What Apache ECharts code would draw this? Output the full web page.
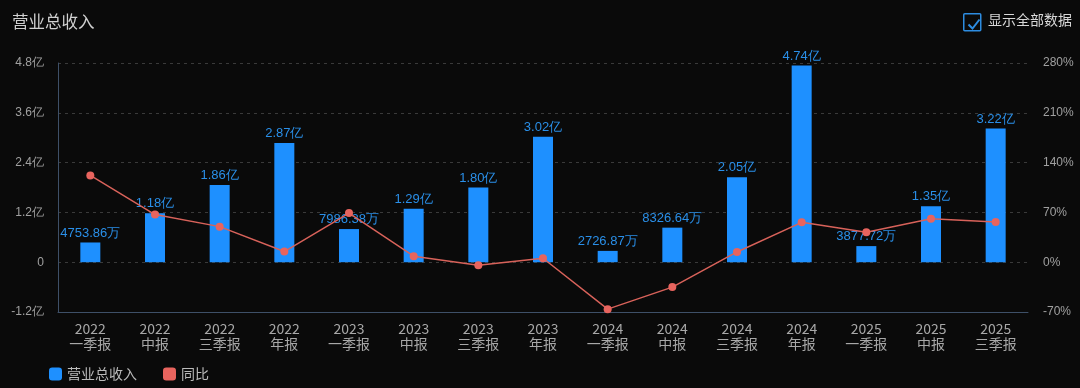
<!DOCTYPE html>
<html><head><meta charset="utf-8">
<script src="https://cdn.jsdelivr.net/npm/echarts@6/dist/echarts.min.js"></script>
<style>html,body{margin:0;padding:0;background:#0a0a0a;}#c{width:1080px;height:388px;}</style>
</head><body><div id="c"></div>
<script>
const categories = ['2022\n一季报','2022\n中报','2022\n三季报','2022\n年报','2023\n一季报','2023\n中报','2023\n三季报','2023\n年报','2024\n一季报','2024\n中报','2024\n三季报','2024\n年报','2025\n一季报','2025\n中报','2025\n三季报'];
// 营业总收入, unit: 亿
const revenue = [0.475386, 1.18, 1.86, 2.87, 0.798638, 1.29, 1.80, 3.02, 0.272687, 0.832664, 2.05, 4.74, 0.387772, 1.35, 3.22];
// 同比, unit: %
const yoy = [122, 67, 50, 15, 69, 8.4, -4.2, 5.6, -66, -35, 14.4, 56, 42, 61, 56.5];
const leftTicks = {min: -1.2, max: 4.8, interval: 1.2};
const rightTicks = {min: -70, max: 280, interval: 70};

function fmtRev(v){
  if (Math.abs(v) < 1) return (v*10000).toFixed(2) + '万';
  return v.toFixed(2) + '亿';
}
const chart = echarts.init(document.getElementById('c'));
chart.setOption({
  backgroundColor: '#0a0a0a',
  animation: false,
  title: {text: '营业总收入', left: 7, top: 8, textStyle: {color: '#d0d0d0', fontSize: 16.5, fontWeight: 'normal', fontFamily: 'Noto Sans CJK SC'}},
  legend: {
    left: 44, bottom: 2, itemWidth: 13, itemHeight: 13, itemGap: 26,
    textStyle: {color: '#bbb', fontSize: 14, fontFamily: 'Noto Sans CJK SC'},
    data: [{name: '营业总收入', icon: 'roundRect'}, {name: '同比', icon: 'roundRect'}]
  },
  graphic: [
    {type: 'rect', left: 963, top: 13, shape: {width: 17, height: 17, r: 1}, style: {fill: 'transparent', stroke: '#2d8ce0', lineWidth: 1.5}},
    {type: 'polyline', left: 966, top: 17, shape: {points: [[0,5],[4,9],[11,0]]}, style: {fill: 'none', stroke: '#2d8ce0', lineWidth: 2}},
    {type: 'text', left: 988, top: 13, style: {text: '显示全部数据', fill: '#d8d8d8', fontSize: 14, fontFamily: 'Noto Sans CJK SC'}}
  ],
  grid: {left: 58, right: 52, top: 63, bottom: 76},
  xAxis: {
    type: 'category', data: categories,
    axisLine: {onZero: false, lineStyle: {color: '#3e5068'}},
    axisTick: {show: false},
    axisLabel: {color: '#a8a8a8', fontSize: 14, lineHeight: 15, interval: 0, fontFamily: 'Noto Sans CJK SC', margin: 9}
  },
  yAxis: [
    {type: 'value', min: leftTicks.min, max: leftTicks.max, interval: leftTicks.interval,
     axisLine: {show: true, lineStyle: {color: '#3e5068'}}, axisTick: {show: false},
     axisLabel: {color: '#a0a0a0', fontSize: 12, margin: 14, formatter: v => v === 0 ? '0' : v.toFixed(1) + '亿'},
     splitLine: {lineStyle: {color: '#3a3a3a', type: [3, 4]}}},
    {type: 'value', min: rightTicks.min, max: rightTicks.max, interval: rightTicks.interval,
     axisLine: {show: false}, axisTick: {show: false},
     axisLabel: {color: '#a0a0a0', fontSize: 12, margin: 15, formatter: v => v + '%'},
     splitLine: {show: false}}
  ],
  series: [
    {name: '营业总收入', type: 'bar', data: revenue, barWidth: 20, yAxisIndex: 0,
     itemStyle: {color: '#1e90ff'},
     label: {show: true, position: 'top', color: '#2a8fe8', fontSize: 13, distance: 3, formatter: p => fmtRev(p.value)}},
    {name: '同比', type: 'line', data: yoy, yAxisIndex: 1, symbol: 'circle', symbolSize: 8,
     itemStyle: {color: '#e8645e'}, lineStyle: {color: '#d8625a', width: 1.5}}
  ]
});
</script></body></html>
